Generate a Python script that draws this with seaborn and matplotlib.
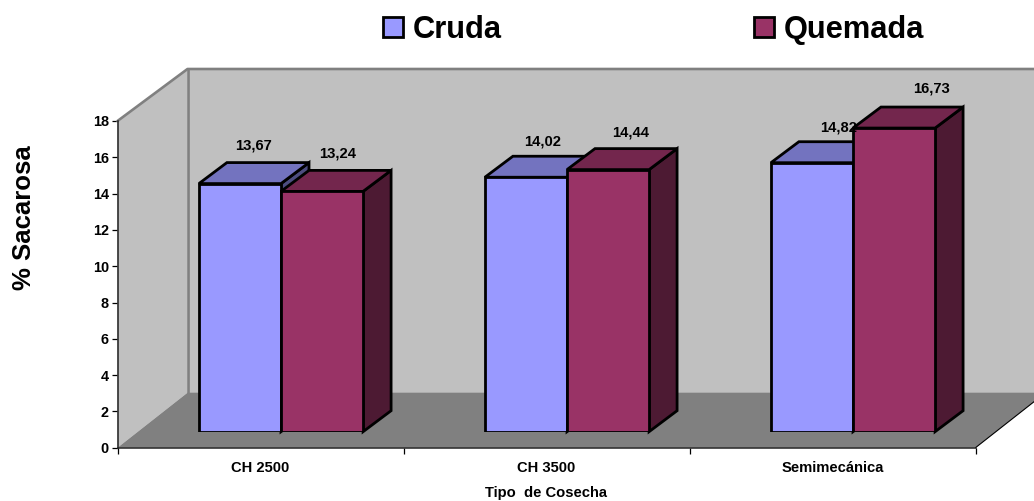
import matplotlib

matplotlib.use("Agg")
import matplotlib.pyplot as plt
import pandas as pd
import seaborn as sns
from matplotlib.lines import Line2D
from matplotlib.patches import Patch, Polygon
from matplotlib.transforms import IdentityTransform

# datos
categorias = ["CH 2500", "CH 3500", "Semimecánica"]
cruda = [13.67, 14.02, 14.82]
quemada = [13.24, 14.44, 16.73]
y_ticks = [0, 2, 4, 6, 8, 10, 12, 14, 16, 18]

# desplazamiento de cada etiqueta respecto al centro superior de la barra (px)
offset_cruda = [(14, 38), (17, 36), (27, 35)]
offset_quemada = [(16, 38), (23, 37), (37, 40)]

COLOR_CRUDA = "#9999FF"
COLOR_QUEMADA = "#993366"
W, H = 1034, 501
DPI = 100
WALL_DX, WALL_DY = 70, 55
BAR_DX, BAR_DY = 28, 21

sns.set_theme(style="white")
plt.rcParams["font.family"] = ["Liberation Sans", "DejaVu Sans"]
plt.rcParams["font.weight"] = "bold"
plt.rcParams["text.color"] = "black"
plt.rcParams["axes.labelcolor"] = "black"
plt.rcParams["xtick.labelcolor"] = "black"
plt.rcParams["ytick.labelcolor"] = "black"

df = pd.DataFrame(
    {
        "tipo": categorias * 2,
        "cosecha": ["Cruda"] * 3 + ["Quemada"] * 3,
        "sacarosa": cruda + quemada,
    }
)

fig = plt.figure(figsize=(W / DPI, H / DPI), dpi=DPI, facecolor="white")


def axes_rect(left, bottom_y, right, top_y):
    return [left / W, (H - bottom_y) / H, (right - left) / W, (bottom_y - top_y) / H]


# ejes frontales
ax = fig.add_axes(axes_rect(117.5, 447.7, 975.5, 121))
ax.set_xlim(-0.5, 2.5)
ax.set_ylim(0, 18)
ax.set_facecolor("none")
ax.set_yticks(y_ticks)
ax.set_xticks([-0.5, 0.5, 1.5, 2.5])
ax.set_xticklabels([])
ax.set_xticks([0, 1, 2], minor=True)
ax.set_xticklabels(categorias, minor=True)
ax.tick_params(axis="y", which="major", left=True, length=4.3, width=0.9, labelsize=10.4, pad=2, color="black")
ax.tick_params(axis="x", which="major", bottom=True, length=4.3, width=0.9, color="black")
ax.tick_params(axis="x", which="minor", bottom=False, length=0, labelsize=10.6, pad=9.5)
sns.despine(ax=ax)
for side in ["left", "bottom"]:
    ax.spines[side].set_color("#222222")
    ax.spines[side].set_linewidth(1.1)
ax.set_ylabel("% Sacarosa", fontsize=18.5, fontweight="bold")
ax.yaxis.set_label_coords((36 - 117.5) / 858, (447.7 - 218) / 326.7)
ax.set_xlabel("Tipo  de Cosecha", fontsize=10.6, fontweight="bold")
ax.xaxis.set_label_coords((546 - 117.5) / 858, (447.7 - 486.5) / 326.7)

# paredes y piso
x0, y0 = ax.transData.transform((-0.5, 0))
x1, _ = ax.transData.transform((2.5, 0))
_, y_top = ax.transData.transform((-0.5, 18))
x_far = W + 60


def add_poly(axis, pts, **kwargs):
    axis.add_patch(Polygon(pts, closed=True, transform=IdentityTransform(), clip_on=False, **kwargs))


add_poly(
    ax,
    [(x0 + WALL_DX, y0 + WALL_DY), (x_far, y0 + WALL_DY), (x_far, y_top + 52), (x0 + WALL_DX, y_top + 52)],
    facecolor="#C0C0C0", edgecolor="none", zorder=0.5,
)
add_poly(
    ax,
    [(x0, y0), (x0 + WALL_DX, y0 + WALL_DY), (x0 + WALL_DX, y_top + 52), (x0, y_top)],
    facecolor="#C0C0C0", edgecolor="none", zorder=0.6,
)
add_poly(
    ax,
    [(x0, y0), (x1, y0), (x1 + WALL_DX, y0 + WALL_DY), (x0 + WALL_DX, y0 + WALL_DY)],
    facecolor="#808080", edgecolor="none", zorder=0.7,
)
wall_lines = [
    ([x0, x0 + WALL_DX, x_far], [y_top, y_top + 52, y_top + 52]),
    ([x0 + WALL_DX, x0 + WALL_DX], [y_top + 52, y0 + WALL_DY]),
]
for xs, ys in wall_lines:
    ax.add_line(Line2D(xs, ys, color="#808080", lw=1.9, transform=IdentityTransform(), clip_on=False, zorder=0.8))
ax.add_line(
    Line2D([x1, x1 + WALL_DX], [y0, y0 + WALL_DY], color="black", lw=0.8,
           transform=IdentityTransform(), clip_on=False, zorder=0.9)
)

# barras, desplazadas hacia el fondo
bar_ax = fig.add_axes(axes_rect(138, 431.7, 996, 105))
bar_ax.set_facecolor("none")
sns.barplot(
    data=df, x="tipo", y="sacarosa", hue="cosecha", order=categorias,
    hue_order=["Cruda", "Quemada"],
    palette={"Cruda": COLOR_CRUDA, "Quemada": COLOR_QUEMADA},
    width=0.574, gap=0, errorbar=None, saturation=1, legend=False,
    edgecolor="black", linewidth=2, ax=bar_ax,
)
bar_ax.set_xlim(-0.5, 2.5)
bar_ax.set_ylim(0, 18)
bar_ax.set_axis_off()


def shade(color, factor):
    r, g, b = matplotlib.colors.to_rgb(color)
    return (r * factor, g * factor, b * factor)


series = [
    (bar_ax.containers[0], cruda, COLOR_CRUDA, offset_cruda, 2),
    (bar_ax.containers[1], quemada, COLOR_QUEMADA, offset_quemada, 3),
]
for container, values, color, offsets, z in series:
    for patch, value, (dx, dy) in zip(container.patches, values, offsets):
        patch.set_zorder(z + 0.2)
        patch.set_joinstyle("miter")
        (px0, py0), (px1, py1) = bar_ax.transData.transform(
            [(patch.get_x(), 0), (patch.get_x() + patch.get_width(), value)]
        )
        style = dict(edgecolor="black", linewidth=2, joinstyle="miter", zorder=z)
        add_poly(bar_ax, [(px1, py0), (px1 + BAR_DX, py0 + BAR_DY), (px1 + BAR_DX, py1 + BAR_DY), (px1, py1)],
                 facecolor=shade(color, 0.5), **style)
        add_poly(bar_ax, [(px0, py1), (px1, py1), (px1 + BAR_DX, py1 + BAR_DY), (px0 + BAR_DX, py1 + BAR_DY)],
                 facecolor=shade(color, 0.75), **style)
        bar_ax.annotate(
            f"{value:.2f}".replace(".", ","),
            xy=(patch.get_x() + patch.get_width() / 2, value),
            xytext=(dx * 72 / DPI, dy * 72 / DPI),
            textcoords="offset points", ha="center", va="center",
            fontsize=10.6, fontweight="bold", zorder=6, annotation_clip=False,
        )

# leyenda
handles = [
    Patch(facecolor=COLOR_CRUDA, edgecolor="black", linewidth=2, label="Cruda"),
    Patch(facecolor=COLOR_QUEMADA, edgecolor="black", linewidth=2, label="Quemada"),
]
fig.legend(
    handles=handles, loc="center left", bbox_to_anchor=(383 / W, 1 - 30 / H), ncol=2,
    frameon=False, fontsize=22.2, borderpad=0, borderaxespad=0, handlelength=0.65,
    handleheight=0.65, handletextpad=0.3, columnspacing=8.2,
)

fig.savefig("out.png", dpi=DPI)
